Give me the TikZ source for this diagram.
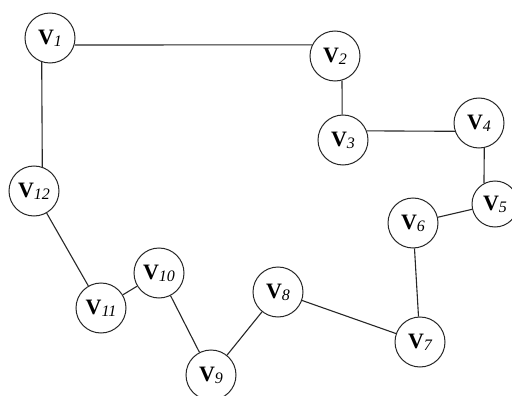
\documentclass[tikz,border=0pt]{standalone}
\usepackage{fontspec}
\setmainfont{Liberation Serif}
\begin{document}
\begin{tikzpicture}[x=1pt,y=-1pt,
  vert/.style={circle,draw=black!85,line width=1pt,minimum size=50pt,inner sep=0pt},
  edge/.style={draw=black!85,line width=1.1pt}]
\useasboundingbox (0,0) rectangle (512,396);
\newcommand{\vlab}[1]{{\fontsize{22}{22}\selectfont\bfseries V}\raisebox{-2pt}{\fontsize{16}{16}\selectfont\itshape #1}}
\node[vert] (v1) at (50,38) {\vlab{1}};
\node[vert] (v2) at (335,56) {\vlab{2}};
\node[vert] (v3) at (343,140) {\vlab{3}};
\node[vert] (v4) at (479,123) {\vlab{4}};
\node[vert,minimum size=46pt] (v5) at (495,204) {\vlab{5}};
\node[vert] (v6) at (413,223) {\vlab{6}};
\node[vert] (v7) at (420,342) {\vlab{7}};
\node[vert] (v8) at (278,292) {\vlab{8}};
\node[vert] (v9) at (211,375) {\vlab{9}};
\node[vert] (v10) at (159,273) {\vlab{10}};
\node[vert] (v11) at (101,308) {\vlab{11}};
\node[vert] (v12) at (34,191) {\vlab{12}};
\draw[edge] (v1.-16) -- (v2.154);
\draw[edge] (v2.-74) -- (v3.92);
\draw[edge] (v3.21) -- (v4.199);
\draw[edge] (v4.-78) -- (v5.118);
\draw[edge] (v5) -- (v6);
\draw[edge] (v6) -- (v7);
\draw[edge] (v7) -- (v8);
\draw[edge] (v8) -- (v9);
\draw[edge] (v9) -- (v10);
\draw[edge] (v10) -- (v11);
\draw[edge] (v11) -- (v12);
\draw[edge] (v12.71) -- (v1.-109);
\end{tikzpicture}
\end{document}
